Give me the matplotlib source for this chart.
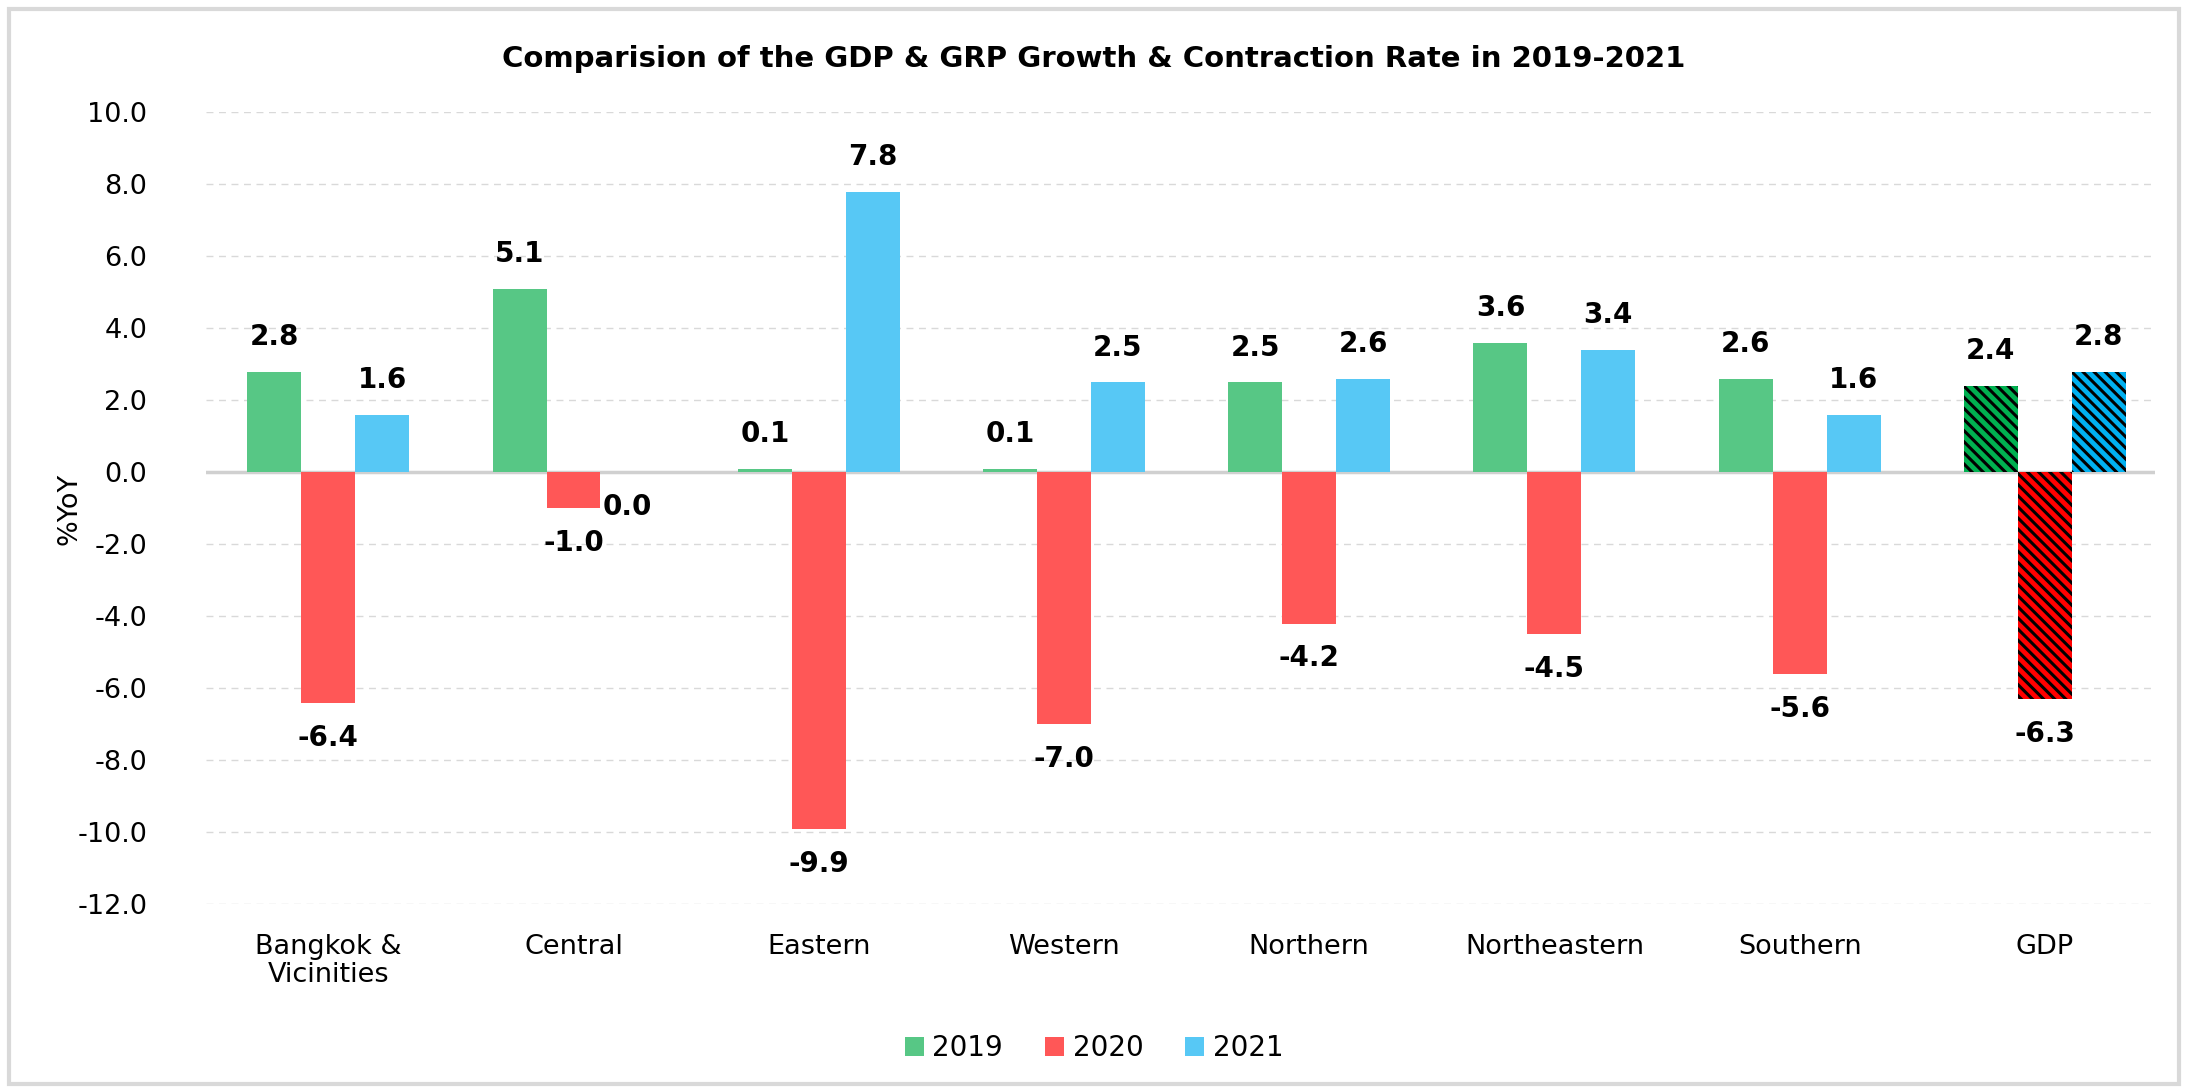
import matplotlib.pyplot as plt
import numpy as np

plt.rcParams['font.family'] = ['DejaVu Sans']
plt.rcParams['hatch.linewidth'] = 2.2

# data
regions = ['Bangkok &\nVicinities', 'Central', 'Eastern', 'Western',
           'Northern', 'Northeastern', 'Southern', 'GDP']
years = ['2019', '2020', '2021']
y2019 = [2.8, 5.1, 0.1, 0.1, 2.5, 3.6, 2.6, 2.4]
y2020 = [-6.4, -1.0, -9.9, -7.0, -4.2, -4.5, -5.6, -6.3]
y2021 = [1.6, 0.0, 7.8, 2.5, 2.6, 3.4, 1.6, 2.8]

colors = ['#57C785', '#FF5757', '#57C8F5']
gdp_colors = ['#00B050', '#FF0000', '#00B0F0']

fig = plt.figure(figsize=(21.88, 10.91), dpi=100)
ax = fig.add_axes([0.094, 0.171, 0.891, 0.726])

x = np.arange(len(regions))
w = 0.22
series = [y2019, y2020, y2021]

for i, vals in enumerate(series):
    xs = x + (i - 1) * w
    # regular regions
    ax.bar(xs[:-1], vals[:-1], width=w, color=colors[i], label=years[i], zorder=3)
    # GDP bar is hatched
    ax.bar(xs[-1], vals[-1], width=w, facecolor=gdp_colors[i], edgecolor='black',
           linewidth=0, hatch='\\\\\\', zorder=3)
    for xv, v in zip(xs, vals):
        off = 25 if v > 0 else -25
        ax.annotate(f'{v:.1f}', (xv, v), xytext=(0, off), textcoords='offset points',
                    ha='center', va='center', fontsize=20, fontweight='bold')

# zero line
ax.axhline(0, color='#D0D0D0', linewidth=2.5, zorder=2)

ax.set_ylim(-12, 10)
ax.set_xlim(-0.5, 7.45)
ax.set_yticks(np.arange(-12, 11, 2))
ax.set_yticklabels([f'{t:.1f}' for t in np.arange(-12, 11, 2)], fontsize=19.5)
ax.set_xticks(x)
ax.set_xticklabels(regions, fontsize=19.5, linespacing=1.1, va='top')
ax.tick_params(axis='both', length=0)
ax.tick_params(axis='x', pad=21)
ax.tick_params(axis='y', pad=42)
ax.grid(axis='y', linestyle=(0, (5, 4)), color='#D9D9D9', linewidth=1, zorder=0)
for s in ax.spines.values():
    s.set_visible(False)

ax.set_ylabel('%YoY', fontsize=19.5)
ax.yaxis.set_label_coords(-0.063, 0.5)

fig.text(0.5, 0.946, 'Comparision of the GDP & GRP Growth & Contraction Rate in 2019-2021',
         ha='center', va='center', fontsize=21, fontweight='bold')

fig.legend(loc='center', bbox_to_anchor=(0.5, 0.039), ncol=3, frameon=False,
           fontsize=20, handlelength=0.7, handleheight=0.7, handletextpad=0.3,
           columnspacing=1.5)

# light grey frame round the chart
fig.patches.append(plt.Rectangle((0.004, 0.006), 0.992, 0.986, transform=fig.transFigure,
                                 fill=False, edgecolor='#D9D9D9', linewidth=3))

plt.savefig('out.png', dpi=100)
